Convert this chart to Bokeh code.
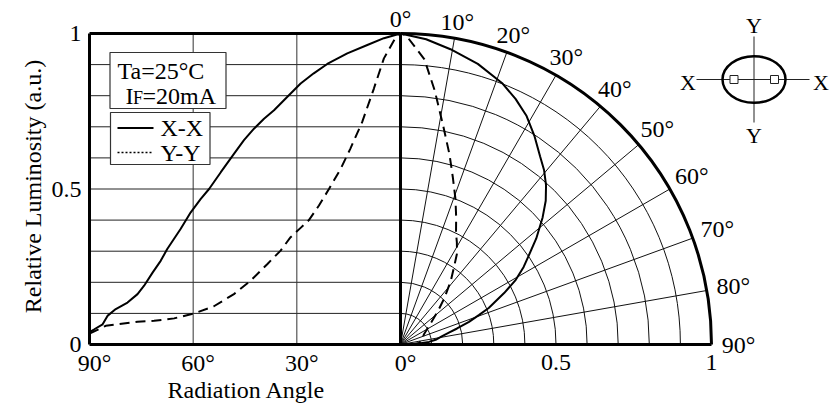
import numpy as np
from bokeh.plotting import figure
from bokeh.models import Range1d
from bokeh.core.properties import value
from bokeh.embed import file_html
from bokeh.resources import INLINE

# ---------------- data ----------------
angle_xx = [90, 88.6, 86.2, 84.8, 82.4, 79.0, 76.1, 74.2, 71.7, 69.4, 67.5, 63.6, 60.7, 57.8, 55.4,
            52.0, 48.2, 45.3, 42.4, 39.5, 36.6, 32.8, 28.9, 25.1, 21.2, 15.4, 9.6, 4.8, 0]
lum_xx = [0.04, 0.049, 0.065, 0.092, 0.114, 0.135, 0.162, 0.189, 0.232, 0.269, 0.307, 0.372, 0.425,
          0.468, 0.50, 0.554, 0.613, 0.657, 0.694, 0.726, 0.753, 0.796, 0.839, 0.872, 0.902, 0.936,
          0.963, 0.985, 1.0]
angle_yy = [90, 85.3, 76.1, 71.3, 65.5, 59.7, 54.0, 48.2, 43.4, 38.5, 34.7, 31.8, 28.9, 26.5, 23.6,
            20.7, 17.3, 14.5, 11.1, 7.7, 4.8, 1.0, 0]
lum_yy = [0.035, 0.06, 0.073, 0.076, 0.084, 0.10, 0.123, 0.162, 0.205, 0.259, 0.302, 0.345, 0.375,
          0.40, 0.447, 0.50, 0.565, 0.63, 0.715, 0.823, 0.92, 0.995, 1.0]

y_ticks = [0, 0.5, 1]
y_tick_labels = ["0", "0.5", "1"]
deg_ticks = [90, 60, 30, 0]
deg_tick_labels = ["90°", "60°", "30°", "0°"]
r_ticks = [0.5, 1]
r_tick_labels = ["0.5", "1"]
polar_angles = [0, 10, 20, 30, 40, 50, 60, 70, 80, 90]
polar_angle_labels = ["0°", "10°", "20°", "30°", "40°", "50°", "60°", "70°", "80°", "90°"]
grid_lum = [0.1, 0.2, 0.3, 0.4, 0.5, 0.6, 0.7, 0.8, 0.9]
grid_deg = [60, 30]
grid_radii = [0.1, 0.2, 0.3, 0.4, 0.5, 0.6, 0.7, 0.8, 0.9]
grid_spokes = [10, 20, 30, 40, 50, 60, 70, 80]

# ---------------- layout helpers ----------------
S = 311.0            # pixels per data unit (both axes)
W, H = 839, 405
OX, OY = 400, 344    # canvas position of the polar origin


def dx(px):  # picture px -> data x
    return (px - OX) / S


def dy(py):  # picture py -> data y
    return (OY - py) / S


FONT = value("Liberation Serif")
FS = value("24px")

p = figure(width=W, height=H, x_range=Range1d(-OX / S, (W - OX) / S),
           y_range=Range1d(-(H - OY) / S, OY / S),
           x_axis_type=None, y_axis_type=None, min_border=0,
           output_backend="svg", toolbar_location=None, tools="")
p.outline_line_color = None
p.background_fill_color = "white"
p.border_fill_color = "white"

# ---------------- left cartesian grid ----------------
p.segment(x0=[-1] * len(grid_lum), y0=grid_lum, x1=[0] * len(grid_lum), y1=grid_lum,
          line_color="#222222", line_width=1)
gx = [-d / 90 for d in grid_deg]
p.segment(x0=gx, y0=[0] * len(gx), x1=gx, y1=[1] * len(gx), line_color="#333333", line_width=1)

# ---------------- polar grid ----------------
p.arc(x=0, y=0, radius=grid_radii, start_angle=0, end_angle=np.pi / 2,
      line_color="#111111", line_width=1)
th = np.radians(grid_spokes)
p.segment(x0=0, y0=0, x1=np.sin(th), y1=np.cos(th), line_color="#111111", line_width=1)

# ---------------- legend boxes ----------------
p.quad(left=[dx(109.5), dx(110)], right=[dx(225.5), dx(209.5)],
       top=[dy(52), dy(112)], bottom=[dy(108), dy(164)],
       fill_color="white", line_color="#333333", line_width=1.2)
p.text(x=[dx(117)], y=[dy(70)], text=["Ta=25°C"], text_font=FONT, text_font_size=FS,
       text_align="left", text_baseline="middle", text_color="black")
p.text(x=[dx(125)], y=[dy(95)], text=["I"], text_font=FONT, text_font_size=FS,
       text_align="left", text_baseline="middle", text_color="black")
p.text(x=[dx(132.5)], y=[dy(97)], text=["F"], text_font=FONT, text_font_size=value("18px"),
       text_align="left", text_baseline="middle", text_color="black")
p.text(x=[dx(142)], y=[dy(95)], text=["=20mA"], text_font=FONT, text_font_size=FS,
       text_align="left", text_baseline="middle", text_color="black")
p.line(x=[dx(117), dx(153)], y=[dy(127.5), dy(127.5)], line_color="black", line_width=2)
p.line(x=[dx(117), dx(153)], y=[dy(152), dy(152)], line_color="black", line_width=1.5,
       line_dash="2 2")
p.text(x=[dx(160), dx(160)], y=[dy(127.5), dy(152)], text=["X-X", "Y-Y"], text_font=FONT,
       text_font_size=FS, text_align="left", text_baseline="middle", text_color="black")

# ---------------- curves ----------------
axx = np.array(angle_xx, dtype=float)
lxx = np.array(lum_xx, dtype=float)
ayy = np.array(angle_yy, dtype=float)
lyy = np.array(lum_yy, dtype=float)
p.line(x=-axx / 90, y=lxx, line_color="black", line_width=2)
p.line(x=-ayy / 90, y=lyy, line_color="black", line_width=2, line_dash="10 6")
p.line(x=lxx * np.sin(np.radians(axx)), y=lxx * np.cos(np.radians(axx)),
       line_color="black", line_width=2)
p.line(x=lyy * np.sin(np.radians(ayy)), y=lyy * np.cos(np.radians(ayy)),
       line_color="black", line_width=2, line_dash="10 6")

# ---------------- heavy frame ----------------
p.arc(x=0, y=0, radius=1, start_angle=0, end_angle=np.pi / 2, line_color="black", line_width=3)
p.segment(x0=[-1, -1, 0, -1], y0=[0, 1, 0, 0], x1=[-1, 0, 0, 1], y1=[1, 1, 1, 0],
          line_color="black", line_width=3)

# ---------------- tick labels ----------------
p.text(x=[dx(81)] * len(y_ticks), y=y_ticks, text=y_tick_labels, text_font=FONT,
       text_font_size=FS, text_align="right", text_baseline="middle", text_color="black")
p.text(x=[-d / 90 for d in deg_ticks], y=[dy(362)] * len(deg_ticks), text=deg_tick_labels,
       text_font=FONT, text_font_size=FS, text_align="center", text_baseline="middle",
       x_offset=5, text_color="black")
p.text(x=r_ticks, y=[dy(362)] * len(r_ticks), text=r_tick_labels,
       text_font=FONT, text_font_size=FS, text_align="center", text_baseline="middle",
       text_color="black")
pa = np.radians(polar_angles)
rl = (325.5 + 12.5 * np.sin(pa)) / S
p.text(x=rl * np.sin(pa), y=rl * np.cos(pa), text=polar_angle_labels, text_font=FONT,
       text_font_size=FS, text_align="center", text_baseline="middle", text_color="black")

# axis titles
p.text(x=[dx(32)], y=[dy(186)], text=["Relative Luminosity (a.u.)"], angle=np.pi / 2,
       text_font=FONT, text_font_size=FS, text_align="center", text_baseline="middle",
       text_color="black")
p.text(x=[dx(246)], y=[dy(389)], text=["Radiation Angle"], text_font=FONT, text_font_size=FS,
       text_align="center", text_baseline="middle", text_color="black")

# ---------------- inset diagram ----------------
p.segment(x0=[dx(696), dx(753.5)], y0=[dy(79), dy(36)], x1=[dx(809), dx(753.5)],
          y1=[dy(79), dy(122)], line_color="#222222", line_width=1)
p.ellipse(x=dx(753.5), y=dy(79), width=63 / S, height=46.5 / S, fill_color=None,
          line_color="black", line_width=2.5)
p.rect(x=[dx(733.5), dx(774)], y=[dy(79), dy(79)], width=8 / S, height=8 / S,
       fill_color="white", line_color="#222222", line_width=1)
p.text(x=[dx(687.5), dx(820.5), dx(753.5), dx(753.5)],
       y=[dy(81.5), dy(81.5), dy(24.5), dy(134.5)], text=["X", "X", "Y", "Y"],
       text_font=FONT, text_font_size=value("22px"), text_align="center",
       text_baseline="middle", text_color="black")

open("out.html", "w").write(file_html(p, INLINE))
